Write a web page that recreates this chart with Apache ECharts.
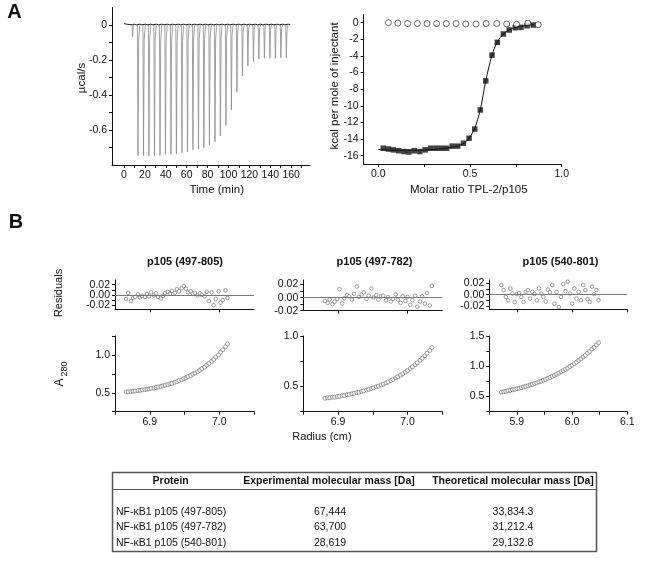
<!DOCTYPE html>
<html>
<head>
<meta charset="utf-8">
<script src="https://cdn.jsdelivr.net/npm/echarts@6/dist/echarts.min.js"></script>
<style>
  html, body { margin: 0; background: #fff; }
  #chart { width: 645px; height: 561px; }
</style>
</head>
<body>
<div id="chart"></div>
<script>
// ---- panel A, raw ITC trace (injection time in min, peak in ucal/s)
const injTimes = [8.0, 13.1, 18.4, 23.6, 28.9, 34.2, 39.4, 44.7, 49.9, 55.2, 60.5, 65.7, 71.0, 76.2, 81.5,
  86.8, 92.0, 97.3, 102.5, 107.8, 113.1, 118.3, 123.6, 128.8, 134.1, 139.4, 144.6, 149.9, 155.1]
const injPeaks = [-0.067, -0.747, -0.747, -0.749, -0.747, -0.745, -0.739, -0.739, -0.735, -0.730, -0.724, -0.714,
  -0.709, -0.701, -0.686, -0.667, -0.634, -0.573, -0.486, -0.383, -0.291, -0.234, -0.210, -0.194, -0.190,
  -0.190, -0.190, -0.187, -0.187]

// ---- panel A, integrated heats
const ratioBound = [0.027, 0.055, 0.082, 0.111, 0.140, 0.167, 0.196, 0.227, 0.256, 0.286, 0.315, 0.344, 0.373, 0.403,
  0.433, 0.464, 0.495, 0.526, 0.556, 0.586, 0.620, 0.649, 0.682, 0.714, 0.747, 0.778, 0.811, 0.845]
const heatBound = [-15.1, -15.2, -15.3, -15.4, -15.5, -15.55, -15.4, -15.5, -15.3, -15.1, -15.1, -15.1, -15.1, -14.85,
  -14.85, -14.5, -13.9, -12.8, -10.5, -7.0, -3.9, -2.36, -1.36, -0.88, -0.6, -0.56, -0.36, -0.28]
const fitRatio = [0.0, 0.1, 0.2, 0.3, 0.4, 0.46, 0.495, 0.526, 0.556, 0.586, 0.62, 0.649, 0.682, 0.714, 0.75, 0.8, 0.85]
const fitHeat = [-15.25, -15.35, -15.35, -15.25, -15.0, -14.6, -13.9, -12.7, -10.5, -7.0, -3.9, -2.3, -1.35, -0.85,
  -0.55, -0.35, -0.25]
const ratioCtrl = [0.055, 0.107, 0.160, 0.213, 0.266, 0.318, 0.371, 0.424, 0.477, 0.533, 0.588, 0.646, 0.700, 0.754,
  0.815, 0.872]
const heatCtrl = [0, -0.05, -0.1, -0.1, -0.1, -0.1, -0.1, -0.1, -0.15, -0.15, -0.1, -0.1, -0.15, -0.2, -0.05, -0.25]

// ---- panel B, sedimentation equilibrium
const radius1 = [6.866, 6.869, 6.873, 6.876, 6.879, 6.883, 6.886, 6.889, 6.893, 6.896, 6.899, 6.902, 6.906, 6.909,
  6.912, 6.916, 6.919, 6.922, 6.926, 6.929, 6.932, 6.936, 6.939, 6.942, 6.946, 6.949, 6.952, 6.955, 6.959, 6.962,
  6.965, 6.969, 6.972, 6.975, 6.979, 6.982, 6.985, 6.989, 6.992, 6.995, 6.999, 7.002, 7.005, 7.009, 7.012]
const a280_1 = [0.510, 0.514, 0.515, 0.521, 0.523, 0.529, 0.531, 0.538, 0.540, 0.548, 0.551, 0.559, 0.563, 0.571,
  0.576, 0.585, 0.591, 0.601, 0.608, 0.619, 0.626, 0.639, 0.647, 0.661, 0.671, 0.686, 0.697, 0.714, 0.727, 0.746,
  0.760, 0.781, 0.798, 0.821, 0.840, 0.866, 0.887, 0.916, 0.941, 0.973, 1.000, 1.037, 1.068, 1.108, 1.145]
const resid1 = [-0.008, 0.004, -0.012, -0.006, -0.004, 0.001, -0.005, -0.002, -0.004, 0.002, -0.003, 0.005, -0.001,
  0.003, -0.004, -0.007, -0.002, 0.004, 0.006, 0.002, 0.008, 0.004, 0.011, 0.007, 0.013, 0.017, 0.012, 0.005, 0.007,
  0.002, 0.004, -0.001, 0.003, 0.000, -0.003, 0.006, -0.012, 0.005, -0.020, -0.008, 0.007, -0.015, -0.010, 0.009, -0.006]

const radius2 = [6.881, 6.885, 6.888, 6.892, 6.895, 6.899, 6.902, 6.906, 6.909, 6.913, 6.916, 6.920, 6.923, 6.927,
  6.930, 6.934, 6.937, 6.941, 6.944, 6.948, 6.951, 6.955, 6.958, 6.962, 6.965, 6.969, 6.972, 6.976, 6.979, 6.983,
  6.986, 6.990, 6.993, 6.997, 7.000, 7.004, 7.007, 7.011, 7.014, 7.018, 7.021, 7.025, 7.028, 7.032, 7.035]
const a280_2 = [0.383, 0.387, 0.388, 0.394, 0.395, 0.401, 0.403, 0.409, 0.411, 0.418, 0.421, 0.428, 0.431, 0.439,
  0.443, 0.451, 0.456, 0.465, 0.470, 0.480, 0.486, 0.497, 0.504, 0.515, 0.523, 0.536, 0.545, 0.559, 0.569, 0.584,
  0.596, 0.612, 0.625, 0.643, 0.658, 0.678, 0.695, 0.716, 0.735, 0.759, 0.780, 0.806, 0.829, 0.858, 0.885]
const resid2 = [-0.005, -0.008, -0.003, -0.010, -0.006, -0.002, 0.013, -0.009, -0.001, 0.004, 0.002, -0.003, 0.006,
  0.017, 0.001, 0.005, 0.008, -0.002, 0.003, 0.014, 0.000, 0.004, -0.003, 0.002, 0.003, -0.004, 0.001, -0.006, -0.002,
  0.005, -0.003, -0.008, 0.002, -0.005, 0.001, -0.011, -0.004, 0.003, -0.014, -0.006, 0.002, -0.009, 0.007, -0.012, 0.018]

const radius3 = [5.872, 5.876, 5.880, 5.884, 5.888, 5.892, 5.896, 5.900, 5.904, 5.908, 5.912, 5.916, 5.920, 5.924,
  5.928, 5.932, 5.936, 5.940, 5.944, 5.948, 5.952, 5.956, 5.960, 5.964, 5.968, 5.972, 5.976, 5.980, 5.984, 5.988,
  5.992, 5.996, 6.000, 6.004, 6.008, 6.012, 6.016, 6.020, 6.024, 6.028, 6.032, 6.036, 6.040, 6.044, 6.048]
const a280_3 = [0.572, 0.580, 0.585, 0.596, 0.601, 0.612, 0.618, 0.630, 0.637, 0.649, 0.657, 0.670, 0.678, 0.692,
  0.702, 0.716, 0.727, 0.743, 0.754, 0.771, 0.783, 0.802, 0.815, 0.835, 0.850, 0.871, 0.887, 0.909, 0.927, 0.951,
  0.971, 0.996, 1.017, 1.045, 1.068, 1.098, 1.123, 1.155, 1.182, 1.216, 1.246, 1.283, 1.315, 1.354, 1.390]
const resid3 = [0.017, 0.008, -0.004, -0.010, 0.011, 0.002, -0.013, 0.001, 0.003, -0.004, -0.013, 0.005, 0.008,
  -0.007, 0.005, 0.001, -0.010, 0.011, 0.002, -0.004, -0.012, 0.009, 0.004, 0.017, -0.016, 0.005, -0.022, -0.004,
  0.019, 0.006, 0.023, 0.002, -0.016, 0.011, -0.007, 0.005, -0.010, 0.017, 0.008, -0.008, -0.013, 0.014, 0.001, 0.008, -0.010]

const panelTitles = ['p105 (497-805)', 'p105 (497-782)', 'p105 (540-801)']

// ---- table
const tableHead = ['Protein', 'Experimental molecular mass [Da]', 'Theoretical molecular mass [Da]']
const tableProtein = ['NF-\u03baB1 p105 (497-805)', 'NF-\u03baB1 p105 (497-782)', 'NF-\u03baB1 p105 (540-801)']
const tableExp = ['67,444', '63,700', '28,619']
const tableTheo = ['33,834.3', '31,212.4', '29,132.8']

const FONT = '"Liberation Sans", Arial, Helvetica, sans-serif'
const INK = '#111'

const zip = (xs, ys) => xs.map((x, i) => [x, ys[i]])

// raw trace: dark baseline with small overshoots, grey dips at each injection
const baseline = [[0, 0.008], [3, 0.004]]
const dips = []
injTimes.forEach((t, i) => {
  const p = injPeaks[i]
  baseline.push([t, 0.001], [t + 2, 0.005], [t + 4, 0.001])
  dips.push([t - 0.3, 0.002], [t + 0.25, p], [t + 0.9, p * 0.12], [t + 2, 0.004], [t + 2.1, '-'])
})
baseline.push([159, 0.001])

function axis (gi, min, max, ticks, labels, fmt, size) {
  return {
    type: 'value',
    gridIndex: gi,
    min: min,
    max: max,
    splitLine: {show: false},
    axisLine: {show: true, onZero: false, lineStyle: {color: INK, width: 1}},
    axisTick: {show: true, customValues: ticks, length: 3, lineStyle: {color: INK, width: 1}},
    axisLabel: {
      show: labels.length > 0,
      customValues: labels.length ? labels : undefined,
      formatter: fmt,
      interval: 0,
      hideOverlap: false,
      showMinLabel: true,
      showMaxLabel: true,
      color: INK,
      fontSize: size || 10.5,
      fontFamily: FONT,
      margin: 5
    }
  }
}

const f1 = v => v.toFixed(1)
const f2 = v => v.toFixed(2)
const grid = (l, t, w, h) => ({left: l, top: t, width: w, height: h, outerBoundsMode: 'none'})

const grids = [
  grid(112, 7.5, 198, 157.5),
  grid(363.6, 14.4, 198.1, 149.6),
  grid(115, 280, 139, 29.3),
  grid(115, 336, 139, 75.7),
  grid(303.3, 280, 139, 30.7),
  grid(303.3, 336, 139, 75.7),
  grid(489.3, 280, 138, 29.3),
  grid(489.3, 336, 138, 75.7)
]

const xAxes = [
  axis(0, -11.5, 178, [0, 10, 20, 30, 40, 50, 60, 70, 80, 90, 100, 110, 120, 130, 140, 150, 160, 170],
    [0, 20, 40, 60, 80, 100, 120, 140, 160], v => String(Math.round(v)), 10.5),
  axis(1, -0.08, 1.0, [0, 0.25, 0.5, 0.75, 1.0], [0, 0.5, 1.0], f1, 10.5),
  axis(2, 6.85, 7.05, [6.9, 7.0], []),
  axis(3, 6.85, 7.05, [6.85, 6.9, 6.95, 7.0, 7.05], [6.9, 7.0], f1),
  axis(4, 6.85, 7.05, [6.9, 7.0], []),
  axis(5, 6.85, 7.05, [6.85, 6.9, 6.95, 7.0, 7.05], [6.9, 7.0], f1),
  axis(6, 5.85, 6.1, [5.9, 6.0, 6.1], []),
  axis(7, 5.85, 6.1, [5.85, 5.9, 5.95, 6.0, 6.05, 6.1], [5.9, 6.0, 6.1], f1)
]

// the first residual axis is tight, so its middle label sits on a twin axis
const zeroTwin = axis(2, -0.028, 0.029, [], [0], f2)
zeroTwin.position = 'left'
zeroTwin.offset = 0
zeroTwin.axisLine.show = false
zeroTwin.axisTick.show = false

const yAxes = [
  axis(0, -0.8, 0.1, [-0.7, -0.6, -0.5, -0.4, -0.3, -0.2, -0.1, 0], [-0.6, -0.4, -0.2, 0],
    v => (v === 0 ? '0' : v.toFixed(1)), 10.5),
  axis(1, -17, 1, [-16, -14, -12, -10, -8, -6, -4, -2, 0], [-16, -14, -12, -10, -8, -6, -4, -2, 0],
    v => String(Math.round(v)), 10.5),
  axis(2, -0.028, 0.029, [-0.02, -0.01, 0, 0.01, 0.02], [-0.02, 0.02], f2),
  axis(3, 0.25, 1.25, [0.25, 0.5, 0.75, 1.0, 1.25], [0.5, 1.0], f1),
  axis(4, -0.02, 0.027, [-0.02, -0.01, 0, 0.01, 0.02], [-0.02, 0, 0.02], f2),
  axis(5, 0.25, 1.0, [0.25, 0.5, 0.75, 1.0], [0.5, 1.0], f1),
  axis(6, -0.026, 0.026, [-0.02, -0.01, 0, 0.01, 0.02], [-0.02, 0, 0.02], f2),
  axis(7, 0.25, 1.5, [0.25, 0.5, 0.75, 1.0, 1.25, 1.5], [0.5, 1.0, 1.5], f1),
  zeroTwin
]

const dot = {color: '#fff', borderColor: '#555', borderWidth: 0.7}

function residSeries (gi, xs, ys) {
  return {
    type: 'scatter', xAxisIndex: gi, yAxisIndex: gi, data: zip(xs, ys),
    symbol: 'circle', symbolSize: 3.6, itemStyle: dot,
    markLine: {
      silent: true, symbol: 'none', label: {show: false},
      lineStyle: {color: '#777', width: 1, type: 'solid'},
      data: [{yAxis: 0}]
    }
  }
}

function absSeries (gi, xs, ys) {
  return {
    type: 'scatter', xAxisIndex: gi, yAxisIndex: gi, data: zip(xs, ys),
    symbol: 'circle', symbolSize: 4, itemStyle: dot
  }
}

const series = [
  {
    type: 'line', xAxisIndex: 0, yAxisIndex: 0, data: dips, showSymbol: false, connectNulls: false,
    lineStyle: {color: '#8a8a8a', width: 0.8}
  },
  {
    type: 'line', xAxisIndex: 0, yAxisIndex: 0, data: baseline, showSymbol: false,
    lineStyle: {color: '#222', width: 1}
  },
  {
    type: 'line', xAxisIndex: 1, yAxisIndex: 1, data: zip(fitRatio, fitHeat), showSymbol: false,
    smooth: 0.3, lineStyle: {color: INK, width: 1}
  },
  {
    type: 'scatter', xAxisIndex: 1, yAxisIndex: 1, data: zip(ratioBound, heatBound),
    symbol: 'rect', symbolSize: 5.5, itemStyle: {color: INK}
  },
  {
    type: 'scatter', xAxisIndex: 1, yAxisIndex: 1, data: zip(ratioCtrl, heatCtrl),
    symbol: 'circle', symbolSize: 6, itemStyle: {color: '#fff', borderColor: INK, borderWidth: 0.8}
  },
  residSeries(2, radius1, resid1),
  absSeries(3, radius1, a280_1),
  residSeries(4, radius2, resid2),
  absSeries(5, radius2, a280_2),
  residSeries(6, radius3, resid3),
  absSeries(7, radius3, a280_3)
]

function txt (text, x, y, size, opts) {
  return Object.assign({
    type: 'text', x: x, y: y, silent: true,
    style: Object.assign({
      text: text, fill: INK, fontSize: size, fontFamily: FONT,
      align: 'center', verticalAlign: 'middle'
    }, (opts && opts.style) || {})
  }, (opts && opts.el) || {})
}

const up = {el: {rotation: Math.PI / 2}}
const bold = {style: {fontWeight: 'bold'}}

const graphics = [
  txt('A', 14.5, 12, 20, bold),
  txt('B', 16, 222, 20, bold),
  txt('\u00b5cal/s', 81.7, 78, 11.5, up),
  txt('Time (min)', 216.7, 190, 11.5),
  txt('kcal per mole of injectant', 334.7, 86, 11.5, up),
  txt('Molar ratio TPL-2/p105', 468.8, 190, 11.5),
  txt(panelTitles[0], 185, 261.7, 11, bold),
  txt(panelTitles[1], 374.5, 261.7, 11, bold),
  txt(panelTitles[2], 560.5, 261.7, 11, bold),
  txt('Residuals', 58.7, 293, 11, up),
  txt('A', 59.2, 382.5, 12, up),
  txt('280', 64.4, 369, 9, up),
  txt('Radius (cm)', 322, 437, 11),
  {
    type: 'rect', silent: true,
    shape: {x: 112.5, y: 472.5, width: 484, height: 79},
    style: {fill: 'none', stroke: '#555', lineWidth: 1.5}
  },
  {
    type: 'line', silent: true,
    shape: {x1: 112.5, y1: 489.5, x2: 596.5, y2: 489.5},
    style: {stroke: '#555', lineWidth: 1}
  },
  txt(tableHead[0], 170.7, 481, 10.5, bold),
  txt(tableHead[1], 329, 481, 10.5, bold),
  txt(tableHead[2], 513, 481, 10.5, bold)
]

const rowY = [511.7, 527.3, 543.3]
tableProtein.forEach((p, i) => {
  graphics.push(txt(p, 116, rowY[i], 10.5, {style: {align: 'left'}}))
  graphics.push(txt(tableExp[i], 330, rowY[i], 10.5))
  graphics.push(txt(tableTheo[i], 513, rowY[i], 10.5))
})

const chart = echarts.init(document.getElementById('chart'), null, {renderer: 'canvas'})
chart.setOption({
  animation: false,
  backgroundColor: '#fff',
  grid: grids,
  xAxis: xAxes,
  yAxis: yAxes,
  series: series,
  graphic: graphics
})
</script>
</body>
</html>
